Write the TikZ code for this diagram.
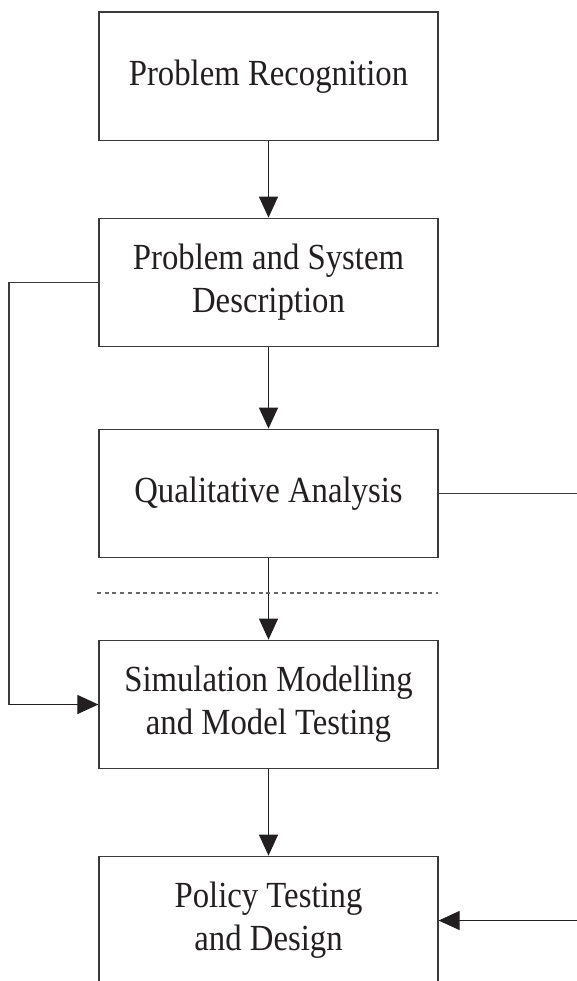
\documentclass[tikz,border=0pt]{standalone}
\usepackage{fontspec}
\setmainfont{Liberation Serif}[FakeStretch=0.89]
\usetikzlibrary{arrows.meta}
\definecolor{ink}{HTML}{231F20}
\definecolor{edge}{HTML}{3A3A3A}
\tikzset{
  stagebox/.style={draw=edge, line width=1.2pt, rectangle, minimum width=339pt,
    minimum height=128.5pt, align=center, inner sep=0pt, text=ink,
    font=\fontsize{36.8}{43.3}\selectfont},
  flow/.style={draw=ink, line width=1.1pt, -{Triangle[length=21pt,width=19pt]}},
  link/.style={draw=edge, line width=1.1pt},
  divider/.style={draw=gray!80!black, line width=1.1pt, dash pattern=on 4pt off 3.7pt}
}
\begin{document}
\begin{tikzpicture}[x=1pt,y=-1pt]
\useasboundingbox (0,0) rectangle (577,981);
\clip (0,0) rectangle (577,981);

\node[stagebox] (recog) at (268.5,76.25) {Problem Recognition};
\node[stagebox] (descr) at (268.5,282.5) {Problem and System\\Description};
\node[stagebox] (qual) at (268.5,493.5) {Qualitative Analysis};
\node[stagebox] (sim) at (268.5,704.5) {Simulation Modelling\\and Model Testing};
\node[stagebox] (policy) at (268.5,920.5) {Policy Testing\\and Design};

\coordinate (qualout) at (577,493.5);
\coordinate (policyin) at (577,920.5);
\coordinate (dashL) at (97,593);
\coordinate (dashR) at (438,593);

% main sequence
\draw[flow] (recog) -- (descr);
\draw[flow] (descr) -- (qual);
\draw[flow] (qual) -- (sim);
\draw[flow] (sim) -- (policy);

% bypass from description to simulation
\draw[link] (descr.west) -| (9,704.5);
\draw[flow] (9,704.5) -- (sim.west);

% side connectors
\draw[link] (qual.east) -- (qualout);
\draw[flow] (policyin) -- (policy.east);

% boundary line
\draw[divider] (dashL) -- (dashR);
\end{tikzpicture}
\end{document}
